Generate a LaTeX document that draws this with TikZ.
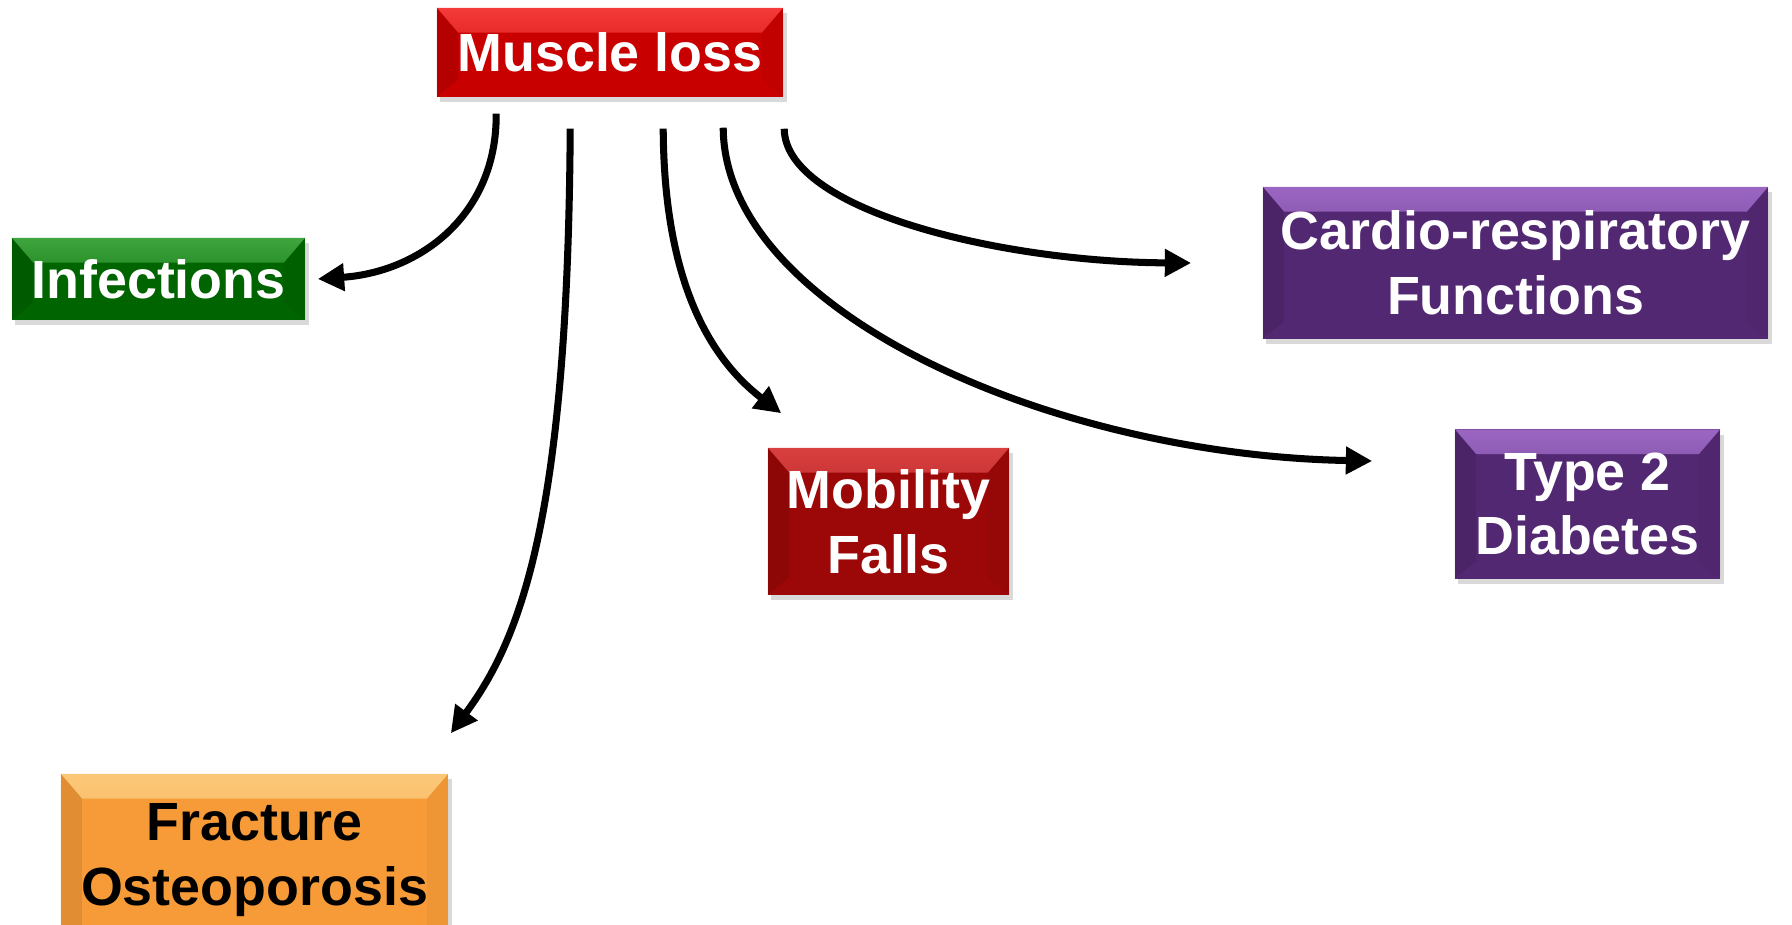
\documentclass[tikz,border=0pt]{standalone}
\usepackage{fontspec}
\setmainfont{Liberation Sans}
\usepackage{tikz}
\usetikzlibrary{arrows.meta,shadows,calc}
\definecolor{lossred}{HTML}{C80000}
\definecolor{lossredlt}{HTML}{F43A3A}
\definecolor{infgreen}{HTML}{006400}
\definecolor{infgreenlt}{HTML}{3FA63F}
\definecolor{fracorange}{HTML}{F79B38}
\definecolor{fracorangelt}{HTML}{FBC878}
\definecolor{mobred}{HTML}{9C0808}
\definecolor{mobredlt}{HTML}{D84040}
\definecolor{diapurple}{HTML}{532872}
\definecolor{diapurplelt}{HTML}{9A66C2}

\begin{document}
\begin{tikzpicture}[
    x=0.01cm,y=-0.01cm,
    box/.style 2 args = {rectangle, fill=#1, inner sep=0pt, align=center,
                   font=\fontsize{15.3}{18.4}\selectfont\bfseries, text=white,
                   drop shadow={opacity=0.3,shadow xshift=1pt,shadow yshift=-1.5pt},
                   path picture={
                     \shade[top color=#2,bottom color=#1]
                       (path picture bounding box.north west)
                       -- (path picture bounding box.north east)
                       -- ([shift={(-6pt,-7pt)}]path picture bounding box.north east)
                       -- ([shift={(6pt,-7pt)}]path picture bounding box.north west) -- cycle;
                     \fill[#1!80!black,opacity=0.45]
                       (path picture bounding box.north west)
                       -- ([shift={(6pt,-7pt)}]path picture bounding box.north west)
                       -- ([shift={(6pt,5pt)}]path picture bounding box.south west)
                       -- (path picture bounding box.south west) -- cycle;
                     \fill[#1!90!black,opacity=0.35]
                       (path picture bounding box.north east)
                       -- ([shift={(-6pt,-7pt)}]path picture bounding box.north east)
                       -- ([shift={(-6pt,5pt)}]path picture bounding box.south east)
                       -- (path picture bounding box.south east) -- cycle;}},
    arr/.style = {-{Triangle[length=7.5pt,width=7.5pt]}, line width=2pt},
  ]

  \useasboundingbox (0,0) rectangle (1792,925);

  \node[box={lossred}{lossredlt}, minimum width=3.46cm, minimum height=0.89cm]
       (loss) at (610,52.5) {Muscle loss};
  \node[box={infgreen}{infgreenlt}, minimum width=2.93cm, minimum height=0.82cm]
       (infect) at (158.5,279) {Infections};
  \node[box={fracorange}{fracorangelt}, text=black, minimum width=3.87cm, minimum height=1.72cm]
       (fract) at (254.5,860) {Fracture\\Osteoporosis};
  \node[box={mobred}{mobredlt}, minimum width=2.41cm, minimum height=1.47cm]
       (mobil) at (888.5,521.5) {Mobility\\Falls};
  \node[box={diapurple}{diapurplelt}, minimum width=5.05cm, minimum height=1.52cm]
       (cardio) at (1515.5,263) {Cardio-respiratory\\Functions};
  \node[box={diapurple}{diapurplelt}, minimum width=2.65cm, minimum height=1.49cm]
       (diab) at (1587.5,504) {Type 2\\Diabetes};

  % arrow ends
  \coordinate (infect-s) at ($(loss.south west)+(60,16)$);
  \coordinate (fract-s)  at ($(loss.south west)+(134,31)$);
  \coordinate (mobil-s)  at ($(loss.south west)+(227,31)$);
  \coordinate (diab-s)   at ($(loss.south west)+(287,30)$);
  \coordinate (cardio-s) at ($(loss.south west)+(348,31)$);
  \coordinate (infect-e) at ($(infect.east)+(12,0)$);
  \coordinate (fract-e)  at ($(fract.north east)+(2,-40)$);
  \coordinate (mobil-e)  at ($(mobil.north west)+(14,-34)$);
  \coordinate (diab-e)   at ($(diab.west)+(-82,-43)$);
  \coordinate (cardio-e) at ($(cardio.west)+(-71,0)$);

  \draw[arr] (infect-s) .. controls (497,215) and (420,272) .. (infect-e);
  \draw[arr] (fract-s)  .. controls (568,520) and (520,640) .. (fract-e);
  \draw[arr] (mobil-s)  .. controls (664,285) and (712,360) .. (mobil-e);
  \draw[arr] (diab-s)   .. controls (724,310) and (1050,455) .. (diab-e);
  \draw[arr] (cardio-s) .. controls (785,210) and (1000,262) .. (cardio-e);

\end{tikzpicture}
\end{document}
